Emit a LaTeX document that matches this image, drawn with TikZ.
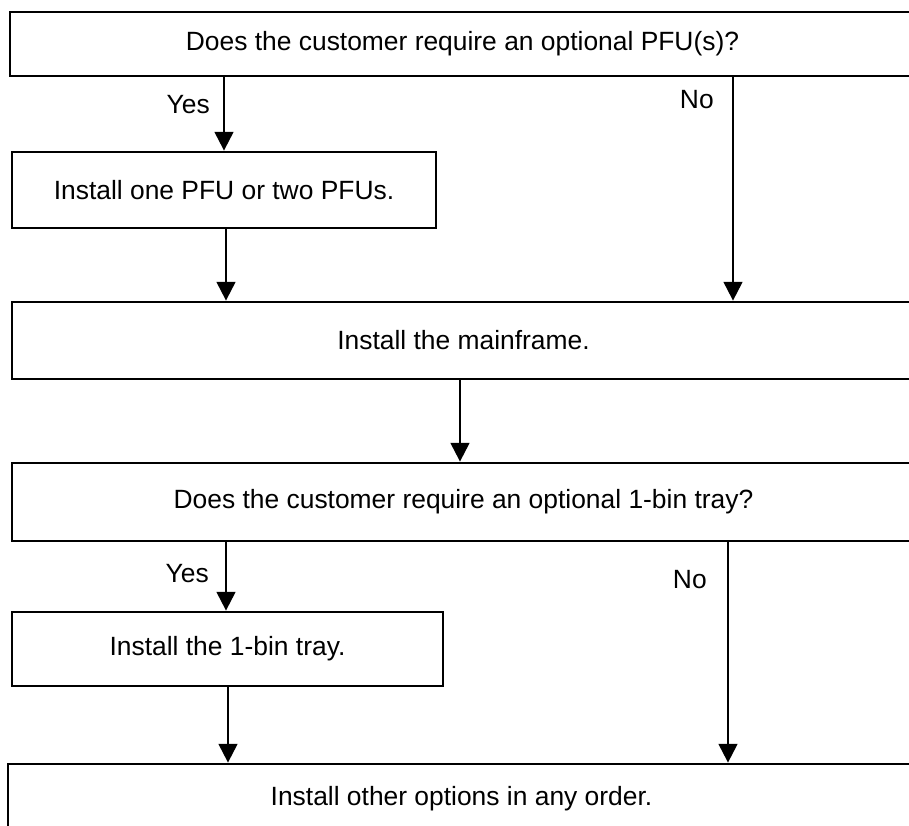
\documentclass[tikz,border=0pt]{standalone}
\usepackage{fontspec}
\setmainfont{Liberation Sans}
\usetikzlibrary{arrows.meta}
\begin{document}
\begin{tikzpicture}[x=0.75pt,y=-0.75pt,
  txt/.style={font=\fontsize{19.8}{23}\selectfont},
  box/.style={txt, draw, line width=2.1pt, rectangle, inner sep=0pt},
  arr/.style={line width=1.6pt, -{Triangle[width=14pt,length=14pt]}},
  lbl/.style={txt, anchor=east, inner sep=0pt}]
\clip (0,0) rectangle (909,825);
\node[box, minimum width=678.75pt, minimum height=48pt] (b1) at (462.5,44) {Does the customer require an optional PFU(s)?};
\node[box, minimum width=318pt, minimum height=57pt] (b2) at (224,190) {Install one PFU or two PFUs.};
\node[box, minimum width=677.25pt, minimum height=57.75pt] (b3) at (463.5,340.5) {Install the mainframe.};
\node[box, minimum width=677.25pt, minimum height=58.5pt] (b4) at (463.5,502) {Does the customer require an optional 1-bin tray?};
\node[box, minimum width=323.25pt, minimum height=55.5pt] (b5) at (227.5,649) {Install the 1-bin tray.};
\node[box, minimum width=680.25pt, minimum height=52.5pt] (b6) at (461.5,799) {Install other options in any order.};
\coordinate (x1) at (224,0);
\coordinate (x2) at (733,0);
\coordinate (x3) at (226,0);
\coordinate (x4) at (460,0);
\coordinate (x5) at (226,0);
\coordinate (x6) at (728,0);
\coordinate (x7) at (228,0);
\draw[arr] (b1.south -| x1) -- (b2.north -| x1);
\draw[arr] (b1.south -| x2) -- (b3.north -| x2);
\draw[arr] (b2.south -| x3) -- (b3.north -| x3);
\draw[arr] (b3.south -| x4) -- (b4.north -| x4);
\draw[arr] (b4.south -| x5) -- (b5.north -| x5);
\draw[arr] (b4.south -| x6) -- (b6.north -| x6);
\draw[arr] (b5.south -| x7) -- (b6.north -| x7);
\node[lbl] (y1) at (210,105) {Yes};
\node[lbl] (n1) at (714,100) {No};
\node[lbl] (y2) at (209,574) {Yes};
\node[lbl] (n2) at (707,580) {No};
\end{tikzpicture}
\end{document}
